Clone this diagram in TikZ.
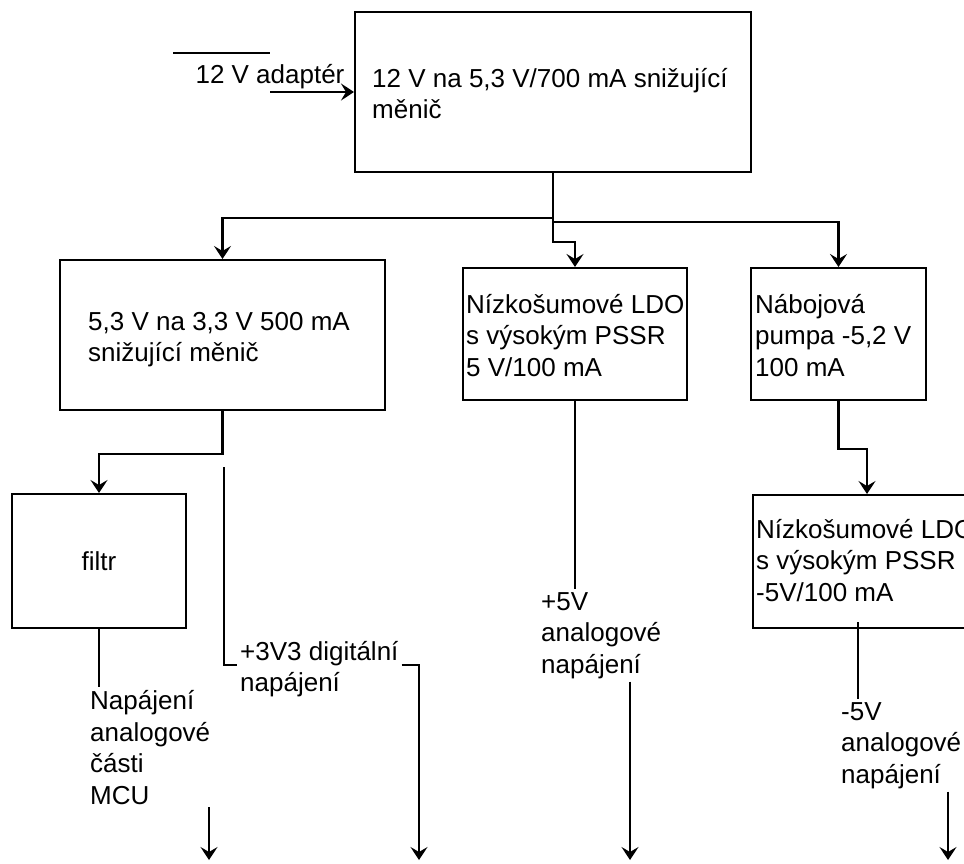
\documentclass[tikz,border=0pt]{standalone}
\usepackage{fontspec}
\setmainfont{Liberation Sans}
\usetikzlibrary{arrows.meta,calc,positioning}
\definecolor{PlanInk}{HTML}{000000}
\tikzset{
  every node/.style={font=\fontsize{26}{31.5}\selectfont, text=PlanInk},
  block/.style={draw=PlanInk, line width=2pt, inner sep=0pt},
  txt/.style={align=left, inner sep=0pt, anchor=base west},
  lbl/.style={align=left, inner sep=3pt, anchor=base west},
  feed/.style={-{Stealth[length=13pt,width=17pt,inset=5pt]}, draw=PlanInk, line width=2.2pt},
  wire/.style={draw=PlanInk, line width=1.8pt},
  tap/.style={wire, -{Stealth[length=13pt,width=17pt,inset=5pt]}},
}

\begin{document}
\begin{tikzpicture}[x=1pt,y=-1pt]
  \useasboundingbox (0,0) rectangle (964,863);
  \clip (0,0) rectangle (964,863);
  % Converter blocks
  \node[block, minimum width=396pt, minimum height=160pt] (conv12) at (553,92) {};
  \node[block, minimum width=325pt, minimum height=150pt] (conv33) at (222.5,335) {};
  \node[block, minimum width=224pt, minimum height=132pt] (ldo5) at (575,334) {};
  \node[block, minimum width=175pt, minimum height=132pt] (pump) at (838.5,334) {};
  \node[block, minimum width=174pt, minimum height=134pt] (filter) at (99,561) {filtr};
  \node[block, minimum width=228pt, minimum height=133pt] (ldo5n) at (867,561.5) {};
  % Block texts (anchored on the last line)
  \node[txt] (conv12txt) at (372,118.5) {12 V na 5,3 V/700 mA snižující\\měnič};
  \node[txt] (conv33txt) at (88,361.5) {5,3 V na 3,3 V 500 mA\\snižující měnič};
  \node[txt] (ldo5txt) at (466,376) {Nízkošumové LDO\\s výsokým PSSR\\5 V/100 mA};
  \node[txt] (pumptxt) at (755,376) {Nábojová\\pumpa -5,2 V\\100 mA};
  \node[txt] (ldo5ntxt) at (756,601) {Nízkošumové LDO\\s výsokým PSSR\\-5V/100 mA};
  % Input
  \coordinate (adIn) at (173,53);
  \node[inner sep=0pt, anchor=base] (adapter) at (270,83) {12 V adaptér};
  \draw[wire, line width=2pt] (adIn) -- (adIn -| adapter.north);
  \draw[feed] (adapter.south |- conv12.west) -- (conv12.west);
  % Distribution
  \draw[feed] (conv12.south) -- ++(0,45) -| (conv33.north);
  \draw[feed] (conv12.south) -- ++(0,69) -| (ldo5.north);
  \draw[feed] (conv12.south) -- ++(0,49) -| (pump.north);
  \draw[feed] (conv33.south) -- ++(0,43) -| (filter.north);
  \draw[feed] (pump.south) -- ++(0,48) -| (ldo5n.north);
  % Outputs
  \node[lbl] (napA) at (87,804) {Napájení\\analogové\\části\\MCU};
  \node[lbl] (d3v) at (237,691.5) {+3V3 digitální\\napájení};
  \node[lbl] (p5) at (538,673) {+5V\\analogové\\napájení};
  \node[lbl] (m5) at (838,783) {-5V\\analogové\\napájení};
  \coordinate (d3in) at (224,467);
  \coordinate (m5in) at (858,622);
  \coordinate (outA) at (209,860);
  \coordinate (outB) at (419,860);
  \coordinate (outC) at (630,860);
  \coordinate (outD) at (948,860);
  \draw[wire] (filter.south) -- (filter.south |- napA.north);
  \draw[tap] (outA |- napA.south) -- (outA);
  \draw[wire] (d3in) |- ([yshift=4pt]d3v.west);
  \draw[tap] ([yshift=4pt]d3v.east) -| (outB);
  \draw[wire] (ldo5.south) -- (ldo5.south |- p5.north);
  \draw[tap] (outC |- p5.south) -- (outC);
  \draw[wire] (m5in) -- (m5in |- m5.north);
  \draw[tap] (outD |- m5.south) -- (outD);
\end{tikzpicture}
\end{document}
